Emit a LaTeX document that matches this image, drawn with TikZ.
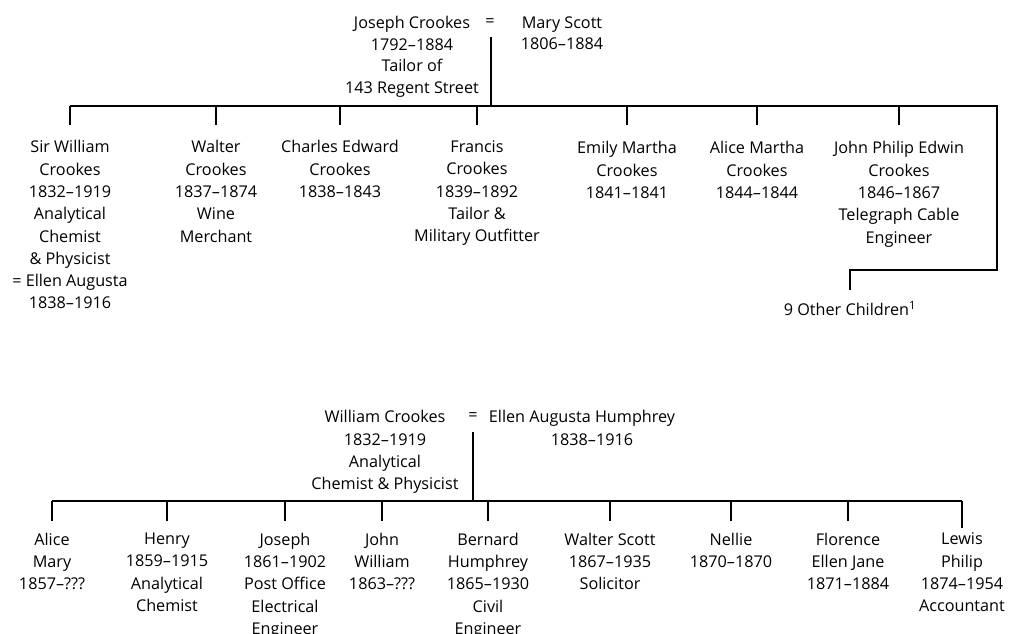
\documentclass[tikz,border=0pt]{standalone}
\usepackage{fontspec}
\setmainfont{Open Sans}
\begin{document}
\begin{tikzpicture}[x=1pt,y=-1pt,line width=1.1pt,
  every node/.style={inner sep=0pt,align=center,anchor=north},
  txt/.style={font=\fontsize{16.2}{22.3}\selectfont},
  ptxt/.style={font=\fontsize{16.2}{21.4}\selectfont},
  eqsign/.style={anchor=center,font=\fontsize{16.2}{20}\selectfont},
  link/.style={draw=black,line cap=butt}]
\useasboundingbox (0,0) rectangle (1010,634);
% ---------- first family ----------
\node[ptxt] (jc) at (412,16) {Joseph Crookes\\1792–1884\\Tailor of\\143 Regent Street};
\node[eqsign] (eq1) at (490,23) {=};
\node[ptxt] (ms) at (562,16) {Mary Scott\\1806–1884};
\coordinate (t1) at (491,37);
\coordinate (bar1) at (491,106);
\coordinate (bar1L) at (70,106);
\coordinate (bar1R) at (997,106);
\coordinate (c1) at (997,270);
\coordinate (c2) at (850,270);

\node[txt] (sw) at (70,140) {Sir William\\Crookes\\1832–1919\\Analytical\\Chemist\\\& Physicist\\= Ellen Augusta\\1838–1916};
\node[txt] (wa) at (216,140) {Walter\\Crookes\\1837–1874\\Wine\\Merchant};
\node[txt] (ce) at (340,140) {Charles Edward\\Crookes\\1838–1843};
\node[txt] (fc) at (477,140) {Francis\\Crookes\\1839–1892\\Tailor \&\\Military Outfitter};
\node[txt] (em) at (627,141) {Emily Martha\\Crookes\\1841–1841};
\node[txt] (am) at (757,141) {Alice Martha\\Crookes\\1844–1844};
\node[txt] (jp) at (899,141) {John Philip Edwin\\Crookes\\1846–1867\\Telegraph Cable\\Engineer};
\node[txt] (oc) at (850,301) {9 Other Children\textsuperscript{1}};

\draw[link] (t1) -- (bar1);
\draw[link] (bar1L) -- (bar1R) -- (c1) -- (c2) -- ([yshift=11pt]oc.north);
\foreach \n in {sw,wa,ce,fc} \draw[link] (bar1 -| \n.north) -- ([yshift=15pt]\n.north);
\foreach \n in {em,am,jp} \draw[link] (bar1 -| \n.north) -- ([yshift=16pt]\n.north);

% ---------- second family ----------
\node[txt] (wc) at (385,410) {William Crookes\\1832–1919\\Analytical\\Chemist \& Physicist};
\node[eqsign] (eq2) at (473,417) {=};
\node[txt] (eh) at (582,410) {Ellen Augusta Humphrey\\\hspace*{20pt}1838–1916};
\coordinate (t2) at (473,432);
\coordinate (bar2) at (473,501);
\coordinate (bar2L) at (52,501);
\coordinate (bar2R) at (962,501);

\node[txt] (am2) at (52,532.5) {Alice\\Mary\\1857–???};
\node[txt] (hy) at (167,532.5) {Henry\\1859–1915\\Analytical\\Chemist};
\node[txt] (jo) at (285,532.5) {Joseph\\1861–1902\\Post Office\\Electrical\\Engineer};
\node[txt] (jw) at (382,532.5) {John\\William\\1863–???};
\node[txt] (bh) at (488,532.5) {Bernard\\Humphrey\\1865–1930\\Civil\\Engineer};
\node[txt] (ws) at (610,532.5) {Walter Scott\\1867–1935\\Solicitor};
\node[txt] (ne) at (731,532.5) {Nellie\\1870–1870};
\node[txt] (fl) at (848,532.5) {Florence\\Ellen Jane\\1871–1884};
\node[txt] (lp) at (962,532.5) {Lewis\\Philip\\1874–1954\\Accountant};

\draw[link] (t2) -- (bar2);
\draw[link] (bar2L) -- (bar2R);
\foreach \n in {am2,hy,jo,jw,bh,ws,ne,fl} \draw[link] (bar2 -| \n.north) -- ([yshift=11.5pt]\n.north);
\draw[link] (bar2 -| lp.north) -- ([yshift=4.5pt]lp.north);
\end{tikzpicture}
\end{document}
